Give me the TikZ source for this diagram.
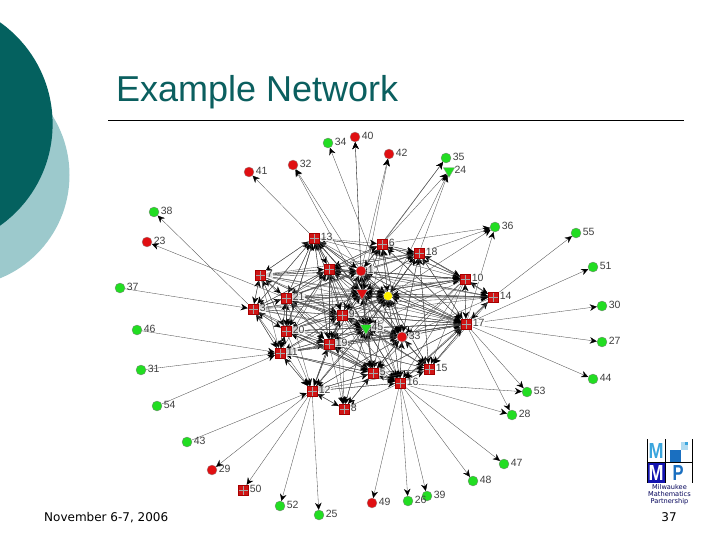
\documentclass[tikz,border=0pt]{standalone}
\usepackage{fontspec}
\setmainfont{Liberation Sans}
\newfontfamily\verd{DejaVu Sans}
\usetikzlibrary{arrows.meta,shapes.geometric,backgrounds}
\definecolor{tealdark}{HTML}{04615F}
\definecolor{teallight}{HTML}{9CC9CC}
\definecolor{titlecol}{HTML}{0B5F5F}
\definecolor{gnode}{HTML}{22DD22}
\definecolor{rnode}{HTML}{E00F12}
\definecolor{sqnode}{HTML}{D01515}
\definecolor{mmpcyan}{HTML}{3AA5DD}
\definecolor{mmpblue}{HTML}{1414B0}
\definecolor{mmpmid}{HTML}{1A6FC0}
\tikzset{
  x=1pt,y=-1pt,
  greennode/.style={circle,fill=gnode,draw=black!50,line width=.3pt,minimum size=10pt,inner sep=0pt},
  rednode/.style={circle,fill=rnode,draw=black!40,line width=.3pt,minimum size=10pt,inner sep=0pt},
  redsq/.style={rectangle,fill=sqnode,draw=red!65!black,line width=.4pt,minimum size=10pt,inner sep=0pt,
    path picture={\draw[black!35,line width=.25pt]
      (path picture bounding box.north) -- (path picture bounding box.south)
      (path picture bounding box.west) -- (path picture bounding box.east);}},
  tri/.style={regular polygon,regular polygon sides=3,shape border rotate=180,minimum size=13pt,inner sep=0pt,line width=.3pt,draw=black!40},
  lbl/.style={font=\fontsize{10.5}{11}\selectfont,text=black!75,anchor=west,inner sep=.6pt,xshift=.8pt,yshift=1pt},
  inlbl/.style={lbl,fill=white,fill opacity=.8,text opacity=1},
  edge/.style={-{Stealth[length=7pt,width=6.5pt,color=black]},line width=.33pt,black!70},
}
\begin{document}
\begin{tikzpicture}
\useasboundingbox (0,0) rectangle (720,540);
\foreach \n/\x/\y in {13/314/238,6/382/244,18/419/253,7/260/275,2/329/269,10/465/279,14/493/297,21/286/298,3/253/309,17/466/324,9/342/315,20/286/331,19/329/344,11/280/353,5/373/373,15/429/369,16/400/383,12/312/391,8/344/409,50/243/490}
  \node[redsq] (n\n) at (\x,\y) {};
\foreach \n/\x/\y in {1/361/271,33/402/337,40/355/137,42/389/154,32/293/165,41/249/172,23/147/242,29/212/470,49/372/503}
  \node[rednode] (n\n) at (\x,\y) {};
\foreach \n/\x/\y in {34/328/143,35/446/158,38/154/212,37/120/288,46/137/330,31/141/370,54/157/406,43/187/442,52/280/506,25/319/515,26/408/501,39/427/496,48/473/481,47/504/464,28/512/415,53/527/392,44/593/379,27/602/342,30/602/306,51/593/267,55/576/233,36/495/227}
  \node[greennode] (n\n) at (\x,\y) {};
\node[tri,fill=gnode] (n24) at (449,171) {};
\node[tri,fill=gnode] (n45) at (366,328) {};
\node[tri,fill=rnode] (n4) at (362,293) {};
\node[circle,fill=yellow,minimum size=8.5pt,inner sep=0pt] (n0) at (388,296) {};
\foreach \n in {34,35,38,37,46,31,54,43,52,25,26,39,48,47,28,53,44,27,30,51,55,36,40,42,32,41,23,29,49,24,50}
  \node[lbl] (l\n) at (n\n.east) {\n};
\begin{scope}[on background layer]
  \fill[white] (0,0) rectangle (720,540);
  \fill[teallight] (-42,175) circle[radius=111.5];
  \fill[tealdark] (-72,124) circle[radius=124.6];
  \draw[black,line width=.8pt] (108,120) -- (684,120);
  \foreach \s/\ts in {
    3/{38},21/{23},13/{41},1/{32,40,42,35},4/{32,40,42},0/{34,36,24},6/{35,24,36},
    18/{24,36},14/{55},17/{36,51,30,27,44,53,28},
    16/{53,28,47,48,39,26,49,8},12/{29,50,52,25}}{
    \foreach \t in \ts { \draw[edge] (n\s) -- (n\t); }
  }
  \foreach \s/\t in {37/3,46/11,31/11,54/11,43/12}{ \draw[edge] (n\s) -- (n\t); }
  \foreach \t/\ss in {
    13/{7,21,2,1,4,9,18,20,19,11,3,45,33,0},
    6/{13,1,0,4,18,17,10,21,2,33},
    18/{6,1,0,17,10,33,7,2,13,21,4,15,45},
    7/{13,2,21,3,20,1},
    2/{13,7,21,1,9,4,19,18,6,20,17,10,11,3,0},
    1/{13,2,6,18,4,0,9,45,17,10,21,7,3,14,33,19},
    10/{18,6,0,17,14,1,2,21,7,3,13,4},
    14/{10,17,0,18,1,4,21,3,9,2},
    21/{7,3,13,2,20,9,1,4,0,11,19,45,33,17},
    3/{7,21,20,11,2,13},
    0/{1,6,18,4,2,13,21,9,45,33,17,14,10,3,7,20,19,16,5,15,11,12},
    4/{1,2,13,7,21,0,9,45,20,3,6,33,17,10,19,18,14,5},
    17/{10,14,18,6,33,15,0,1,4,16,5,45,2,21,13,9,7,3,20,19,11},
    9/{2,21,4,45,20,19,1,13,3,7,0,33,11,12,17},
    45/{9,4,0,1,2,21,20,19,11,33,5,16,15,17,3,13,12,7,6,18,10,8},
    33/{0,45,4,17,15,16,5,9,1,6,18,10,14,19,21,2,20,11,12,3,7,13,8},
    20/{21,3,7,9,11,19,2,13,4,45,33,0,17,5,16},
    19/{20,11,9,21,2,45,3,12,5,4,33,0,1,17,16,15,7,13},
    11/{3,20,21,7,19,12,9,45,5,33,16,17},
    5/{45,33,16,19,9,15,17,11,12,0,20,4,1,21,3,8,10,2},
    15/{33,17,16,0,45,5,10,18,14,9,19,4},
    16/{5,33,45,15,17,12,0,19,9,11,4,1,14,2,20,21,10},
    12/{11,19,20,16,9,5,3,45,8,33,15,21},
    8/{12,19,9,45,2,5}}{
    \foreach \s in \ss { \draw[edge] (n\s) -- (n\t); }
  }
\end{scope}
\foreach \n in {13,6,18,7,1,10,14,21,3,9,45,33,17,20,19,11,5,15,16,12,8}
  \node[inlbl] (l\n) at (n\n.east) {\n};
\node[anchor=base west,inner sep=0pt,text=titlecol,font=\fontsize{36}{40}\selectfont] (title) at (116,102) {Example Network};
\node[anchor=base west,inner sep=0pt,font=\verd\fontsize{12}{14}\selectfont] (date) at (44,521) {November 6-7, 2006};
\node[anchor=base,inner sep=0pt,font=\verd\fontsize{12}{14}\selectfont] (page) at (669,521) {37};
\fill[mmpblue] (647,462) rectangle (665,483);
\fill[mmpmid] (670,450) rectangle (681,462);
\fill[white!60!mmpcyan] (681,442) rectangle (688,450);
\fill[mmpcyan] (685,442) rectangle (688,445);
\draw[black,line width=.5pt] (647,439) -- (647,483) (665,439) -- (665,483) (692,439) -- (692,483) (647,462) -- (692,462);
\node[inner sep=0pt,font=\bfseries\fontsize{21}{21}\selectfont,text=mmpcyan] (mu) at (656,451) {\resizebox{15pt}{15pt}{M}};
\node[inner sep=0pt,font=\bfseries\fontsize{21}{21}\selectfont,text=white] (ml) at (656,473) {\resizebox{15pt}{15pt}{M}};
\node[inner sep=0pt,font=\bfseries\fontsize{21}{21}\selectfont,text=mmpmid] (mp) at (678,473) {\resizebox{11pt}{15pt}{P}};
\node[inner sep=0pt,align=center,font=\verd\fontsize{6.6}{7}\selectfont,text=black!65!blue] (mt) at (669.5,495) {Milwaukee\\Mathematics\\Partnership};
\end{tikzpicture}
\end{document}
